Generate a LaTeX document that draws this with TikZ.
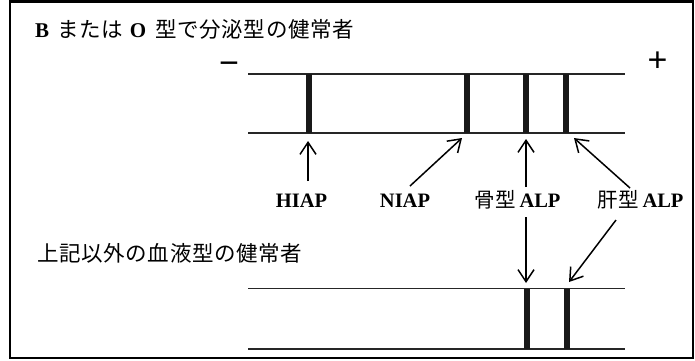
\documentclass[tikz,border=0pt]{standalone}
\usepackage{fontspec}
\setmainfont{Liberation Serif}
\newfontfamily\jpfont{Noto Sans CJK JP}
\newfontfamily\jpwide{Noto Sans CJK JP}[LetterSpace=3]
\newfontfamily\signfont{Liberation Sans}
\usetikzlibrary{arrows.meta}
\begin{document}
\begin{tikzpicture}[x=1pt,y=-1pt,
  gel/.style={line width=1.3pt, draw=black!85},
  band/.style={fill=black!90, draw=none, rectangle, minimum width=6pt, inner sep=0pt},
  arr/.style={line width=1.5pt, -{Straight Barb[length=12pt,width=16pt,line width=1.5pt]}},
  lab/.style={font=\fontsize{20.5}{20}\selectfont\bfseries, inner sep=0pt, anchor=base},
  ttl/.style={font=\fontsize{21}{21}\selectfont, inner sep=0pt, anchor=base west},
  sign/.style={font=\signfont\fontsize{34}{34}\selectfont, inner sep=0pt},
  ]
\useasboundingbox (0,0) rectangle (695,360);
\draw[line width=2.4pt] (10,1.5) rectangle (693,358);
% titles
\node[ttl] (title1) at (35,37.5) {\bfseries B\hspace{8pt}{\jpwide\fontsize{21.5}{21}\selectfont\mdseries または}\hspace{7pt}O\hspace{9pt}{\jpwide\fontsize{21.5}{21}\selectfont\mdseries 型で分泌型の健常者}};
\node[ttl] (title2) at (37,261.5) {\jpwide\fontsize{21.5}{21}\selectfont 上記以外の血液型の健常者};
% signs
\node[sign] (minus) at (229,68) {−};
\node[sign] (plus) at (657.5,62) {+};
% upper gel
\draw[gel] (248,74) -- (625,74);
\draw[gel] (248,133) -- (625,133);
\node[band, minimum height=59pt] (b1) at (308.5,103.5) {};
\node[band, minimum height=59pt] (b2) at (467,103.5) {};
\node[band, minimum height=59pt] (b3) at (526,103.5) {};
\node[band, minimum height=59pt] (b4) at (566,103.5) {};
% lower gel
\draw[gel] (248,288.5) -- (625,288.5);
\draw[gel] (248,349) -- (625,349);
\node[band, minimum height=60.5pt] (c3) at (527,318.75) {};
\node[band, minimum height=60.5pt] (c4) at (566.5,318.75) {};
% labels
\node[lab] (hiap) at (301.5,207) {HIAP};
\node[lab] (niap) at (405,207) {NIAP};
\node[lab] (bone) at (517.5,207) {{\jpfont\mdseries\fontsize{20.5}{20}\selectfont 骨型}\hspace{4pt}ALP};
\node[lab] (liver) at (640.5,207) {{\jpfont\mdseries\fontsize{20.5}{20}\selectfont 肝型}\hspace{4pt}ALP};
% arrow end points
\coordinate (hiapS) at (308,181);
\coordinate (hiapT) at (308,141);
\coordinate (niapS) at (410,186);
\coordinate (niapT) at (462,138);
\coordinate (boneS) at (526,187);
\coordinate (boneT) at (526,139);
\coordinate (liverS) at (630,188);
\coordinate (liverT) at (574,138);
\coordinate (boneS2) at (526,217);
\coordinate (boneT2) at (526,283);
\coordinate (liverS2) at (616,220);
\coordinate (liverT2) at (569,282);
% arrows
\draw[arr] (hiapS) -- (hiapT);
\draw[arr] (niapS) -- (niapT);
\draw[arr] (boneS) -- (boneT);
\draw[arr] (liverS) -- (liverT);
\draw[arr] (boneS2) -- (boneT2);
\draw[arr] (liverS2) -- (liverT2);
\end{tikzpicture}
\end{document}
